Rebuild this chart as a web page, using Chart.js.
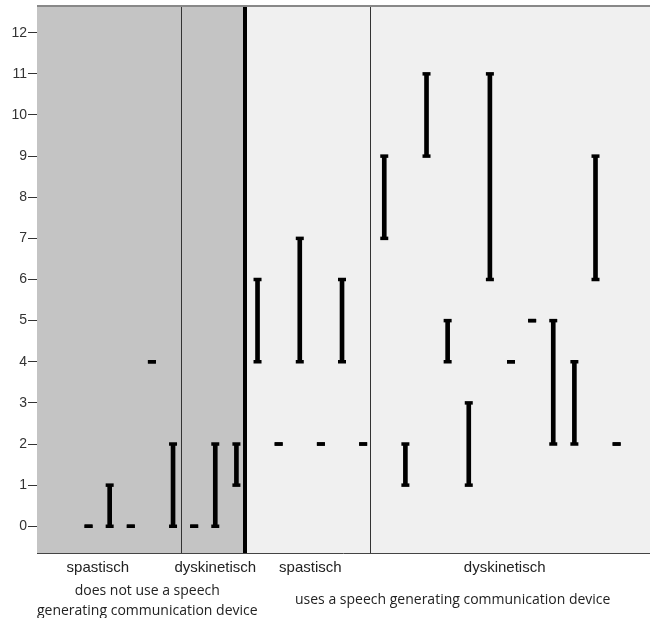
<!DOCTYPE html>
<html>
<head>
<meta charset="utf-8">
<script src="https://cdn.jsdelivr.net/npm/chart.js@4/dist/chart.umd.min.js"></script>
<style>
  body { margin: 0; background: #fff; }
</style>
</head>
<body>
<canvas id="chart" width="651" height="618"></canvas>
<script>
// one entry per case (left to right)
const slots = [0,1,2,3,4,5,6,7,8,9,10,11,12,13,14,15,16,17,18,19,20,21,22,23,24,25];
const lows  = [0,0,0,4,0,0,0,1,4,2,4,2,4,2,7,1,9,4,1,6,4,5,2,2,6,2];
const highs = [0,1,0,4,2,0,2,2,6,2,7,2,6,2,9,2,11,5,3,11,4,5,5,4,9,2];
const yTicks = [0,1,2,3,4,5,6,7,8,9,10,11,12];

const subtypeLabels = ['spastisch', 'dyskinetisch', 'spastisch', 'dyskinetisch'];
const subtypeCenters = [0.44, 6.0, 10.5, 19.7];
const groupLabels = [['does not use a speech', 'generating communication device'],
                     ['uses a speech generating communication device']];
const groupCenters = [2.78, 17.24];
const dividers = [4.39, 7.42, 13.33];

const panels = {
  id: 'panels',
  beforeDatasetsDraw(chart) {
    const {ctx, chartArea: a, scales: {x}} = chart;
    const split = x.getPixelForValue(dividers[1]);
    ctx.save();
    ctx.fillStyle = '#c4c4c4';
    ctx.fillRect(a.left, a.top, split - a.left, a.bottom - a.top);
    ctx.fillStyle = '#f0f0f0';
    ctx.fillRect(split, a.top, a.right - split, a.bottom - a.top);

    dividers.forEach((d, i) => {
      const px = Math.round(x.getPixelForValue(d));
      ctx.strokeStyle = i == 1 ? '#000' : '#333';
      ctx.lineWidth = i == 1 ? 4 : 1;
      ctx.beginPath();
      ctx.moveTo(px + (i == 1 ? 0 : 0.5), a.top - 1);
      ctx.lineTo(px + (i == 1 ? 0 : 0.5), a.bottom);
      ctx.stroke();
    });

    // frame: top and bottom
    ctx.strokeStyle = '#888';
    ctx.lineWidth = 2;
    ctx.beginPath();
    ctx.moveTo(a.left, a.top);
    ctx.lineTo(a.right, a.top);
    ctx.stroke();
    ctx.strokeStyle = '#444';
    ctx.lineWidth = 1;
    ctx.beginPath();
    ctx.moveTo(a.left, a.bottom + 0.5);
    ctx.lineTo(a.right, a.bottom + 0.5);
    ctx.stroke();
    ctx.restore();
  },
  afterDraw(chart) {
    const {ctx, chartArea: a, scales: {x}} = chart;
    ctx.save();
    ctx.textAlign = 'center';
    ctx.textBaseline = 'middle';
    ctx.fillStyle = '#222';
    ctx.font = '15px "Liberation Sans", Arial, sans-serif';
    subtypeLabels.forEach((t, i) => {
      ctx.fillText(t, x.getPixelForValue(subtypeCenters[i]), a.bottom + 15);
    });
    ctx.font = '14px "Open Sans", sans-serif';
    groupLabels.forEach((lines, i) => {
      const cx = x.getPixelForValue(groupCenters[i]);
      if (lines.length == 1) {
        ctx.fillText(lines[0], cx, a.bottom + 47);
      } else {
        lines.forEach((l, j) => ctx.fillText(l, cx, a.bottom + 38 + j * 20));
      }
    });
    ctx.restore();
  }
};

new Chart(document.getElementById('chart'), {
  type: 'bar',
  data: {
    datasets: [
      {
        type: 'bar',
        data: slots.map((s, i) => ({x: s, y: [lows[i], highs[i]]})),
        backgroundColor: '#000',
        barThickness: 4,
        borderSkipped: false
      },
      {
        type: 'scatter',
        data: slots.map((s, i) => ({x: s, y: lows[i]})),
        pointStyle: 'line',
        pointRadius: 4,
        borderWidth: 3.5,
        borderColor: '#000'
      },
      {
        type: 'scatter',
        data: slots.map((s, i) => ({x: s, y: highs[i]})),
        pointStyle: 'line',
        pointRadius: 4,
        borderWidth: 3.5,
        borderColor: '#000'
      }
    ]
  },
  options: {
    responsive: false,
    animation: false,
    layout: { autoPadding: false, padding: { top: 6, bottom: 65, right: 1, left: 0 } },
    plugins: { legend: { display: false }, tooltip: { enabled: false } },
    scales: {
      x: {
        type: 'linear',
        min: -2.44,
        max: 26.58,
        offset: false,
        display: false
      },
      y: {
        min: -0.65,
        max: 12.65,
        afterBuildTicks(axis) { axis.ticks = yTicks.map(v => ({value: v})); },
        afterFit(axis) {
          axis.width = 37;
          axis.paddingTop = 0;
          axis.paddingBottom = 0;
        },
        grid: { drawOnChartArea: false, tickLength: 9, color: '#333' },
        border: { color: '#444' },
        ticks: {
          padding: 1,
          color: '#333',
          font: { family: '"Liberation Sans", Arial, sans-serif', size: 14 }
        }
      }
    }
  },
  plugins: [panels]
});
</script>
</body>
</html>
